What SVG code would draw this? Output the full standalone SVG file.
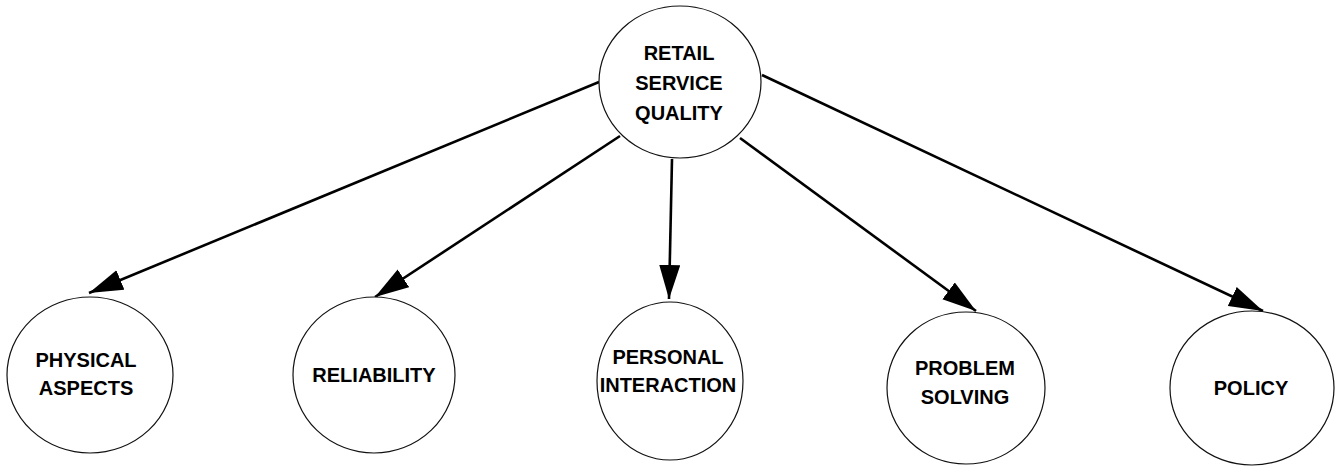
<svg xmlns="http://www.w3.org/2000/svg" width="1335" height="467" viewBox="0 0 1335 467">
<style>
.node ellipse{fill:#fff;stroke:#111;stroke-width:1.2}
.node text{font-family:"Liberation Sans",Arial,sans-serif;font-weight:bold;font-size:20px;fill:#000;text-anchor:middle}
.edge{stroke:#000;stroke-width:2.6;fill:none;marker-end:url(#ah)}
</style>
<defs>
<marker id="ah" markerUnits="userSpaceOnUse" markerWidth="36" markerHeight="22" refX="34" refY="10.5" orient="auto">
<path d="M0,0 L34,10.5 L0,21 Z" fill="#000"/>
</marker>
</defs>
<rect width="1335" height="467" fill="#fff"/>
<g id="connectors">
<line class="edge" x1="599" y1="82" x2="89" y2="293"/>
<line class="edge" x1="620" y1="136" x2="375" y2="297"/>
<line class="edge" x1="672" y1="159" x2="669" y2="299"/>
<line class="edge" x1="740" y1="138" x2="976" y2="311"/>
<line class="edge" x1="762" y1="75" x2="1263" y2="311"/>
</g>
<g id="retail-service-quality" class="node">
<ellipse cx="680" cy="82" rx="81" ry="76"/>
<text x="679" y="60">RETAIL</text>
<text x="679" y="90">SERVICE</text>
<text x="679" y="120">QUALITY</text>
</g>
<g id="physical-aspects" class="node">
<ellipse cx="90" cy="375" rx="83" ry="78"/>
<text x="86" y="367">PHYSICAL</text>
<text x="86" y="395">ASPECTS</text>
</g>
<g id="reliability" class="node">
<ellipse cx="374" cy="375" rx="81" ry="78"/>
<text x="374" y="382">RELIABILITY</text>
</g>
<g id="personal-interaction" class="node">
<ellipse cx="670" cy="381" rx="73" ry="79"/>
<text x="668" y="364">PERSONAL</text>
<text x="668" y="392">INTERACTION</text>
</g>
<g id="problem-solving" class="node">
<ellipse cx="966" cy="388" rx="79" ry="76"/>
<text x="965" y="375">PROBLEM</text>
<text x="965" y="404">SOLVING</text>
</g>
<g id="policy" class="node">
<ellipse cx="1252" cy="388" rx="82" ry="77"/>
<text x="1251" y="395">POLICY</text>
</g>
</svg>
